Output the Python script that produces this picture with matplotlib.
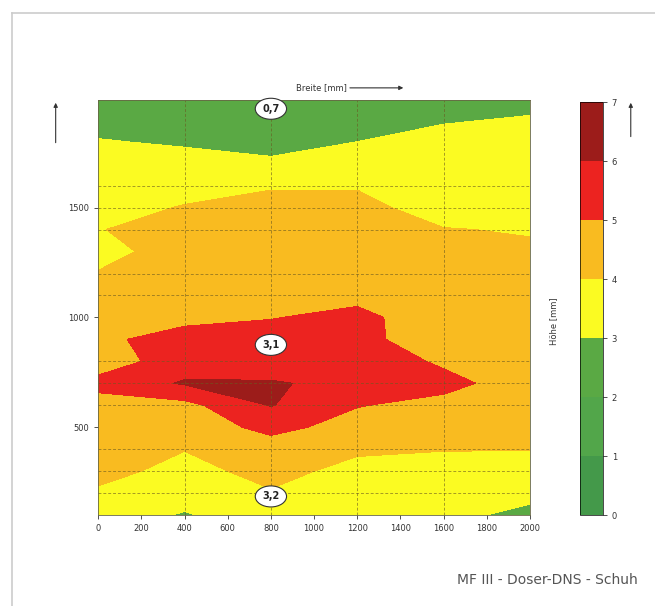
import numpy as np
import matplotlib.pyplot as plt
from matplotlib.colors import ListedColormap, BoundaryNorm
from matplotlib.lines import Line2D

# -------------------------
# MESSRASTER
# -------------------------
breite = [0, 400, 800, 1200, 1600, 2000]
hoehe = [100, 200, 300, 400, 500, 600, 700, 800, 900, 1000,
         1100, 1200, 1300, 1400, 1500, 1600, 1700, 1800, 1900, 2000]

# Werte je Spalte (Breite), von unten nach oben
w_0 = [3.6, 3.9, 4.2, 4.3, 4.4, 4.6, 5.3, 4.5, 4.85, 4.8,
       4.3, 4.05, 3.7, 3.97, 3.7, 3.5, 3.3, 3.05, 2.7, 2.5]
w_400 = [2.9, 3.5, 3.8, 4.02, 4.4, 4.7, 6.1, 5.5, 5.3, 4.8,
         4.7, 4.55, 4.4, 4.3, 4.05, 3.7, 3.3, 2.9, 2.6, 2.4]
w_800 = [3.7, 3.95, 4.2, 4.5, 5.3, 6.05, 6.1, 5.4, 5.3, 4.97,
         4.8, 4.6, 4.4, 4.3, 4.2, 3.95, 3.15, 2.7, 2.4, 2.2]
w_1200 = [3.4, 3.6, 3.8, 4.1, 4.6, 5.05, 5.7, 5.6, 5.3, 5.2,
          4.8, 4.6, 4.45, 4.3, 4.2, 3.95, 3.3, 3.0, 2.6, 2.4]
w_1600 = [3.3, 3.5, 3.7, 4.03, 4.5, 4.7, 5.3, 4.85, 4.4, 4.55,
          4.4, 4.3, 4.2, 4.03, 3.7, 3.55, 3.4, 3.2, 2.95, 2.7]
w_2000 = [2.7, 3.3, 3.7, 4.02, 4.3, 4.45, 4.5, 4.45, 4.4, 4.35,
          4.3, 4.2, 4.1, 3.95, 3.8, 3.6, 3.5, 3.3, 3.05, 2.8]

stufen = [0, 1, 2, 3, 4, 5, 6, 7]
farben = ['#44994a', '#52a64a', '#5aa944', '#fbfb22',
          '#f9bb20', '#ec2320', '#9c1c1a']

Z = np.array([w_0, w_400, w_800, w_1200, w_1600, w_2000]).T
X, Y = np.meshgrid(breite, hoehe)

cmap = ListedColormap(farben)
norm = BoundaryNorm(stufen, cmap.N)

# -------------------------
# GRAFIK
# -------------------------
fig = plt.figure(figsize=(6.55, 6.06), dpi=100)
ax = fig.add_axes([0.150, 0.150, 0.659, 0.685])

cf = ax.contourf(X, Y, Z, levels=stufen, cmap=cmap, norm=norm)

ax.set_xlim(0, 2000)
ax.set_ylim(100, 1990)
ax.set_xticks(range(0, 2001, 200))
ax.set_yticks([500, 1000, 1500])
ax.tick_params(labelsize=6, colors='#333333', length=3, width=0.6)
for s in ax.spines.values():
    s.set_linewidth(0.6)
    s.set_color('#666644')

# Messlinien
for xv in [400, 800, 1200, 1600]:
    ax.axvline(xv, color='#6b5a20', lw=0.7, ls=(0, (3, 2)), alpha=0.6)
for yv in [200, 300, 400, 600, 700, 800, 1100, 1200, 1400, 1500, 1600]:
    ax.axhline(yv, color='#6b5a20', lw=0.7, ls=(0, (3, 2)), alpha=0.6)

# Markierungen
box = dict(boxstyle='ellipse,pad=0.25', fc='white', ec='#333333', lw=0.8)
for xv, yv, txt in [(800, 1950, '0,7'), (800, 875, '3,1'), (800, 185, '3,2')]:
    ax.text(xv, yv, txt, ha='center', va='center', fontsize=7,
            fontweight='bold', color='#222222', bbox=box, zorder=5)

# Farbskala
cax = fig.add_axes([0.885, 0.150, 0.035, 0.681])
cb = fig.colorbar(cf, cax=cax, ticks=stufen)
cb.ax.tick_params(labelsize=6, colors='#333333', length=3, width=0.6)
cb.outline.set_linewidth(0.5)
fig.text(0.845, 0.47, 'Höhe [mm]', rotation=90, ha='center', va='center',
         fontsize=6, color='#333333')

# Achsentitel mit Pfeilen
fig.text(0.49, 0.855, 'Breite [mm]', ha='center', va='center',
         fontsize=6, color='#333333')
ax.annotate('', xy=(0.620, 0.855), xytext=(0.53, 0.855),
            xycoords='figure fraction',
            arrowprops=dict(arrowstyle='-|>', color='#333333', lw=0.8,
                            mutation_scale=6))
ax.annotate('', xy=(0.085, 0.835), xytext=(0.085, 0.76),
            xycoords='figure fraction',
            arrowprops=dict(arrowstyle='-|>', color='#333333', lw=0.8,
                            mutation_scale=6))
ax.annotate('', xy=(0.963, 0.835), xytext=(0.963, 0.77),
            xycoords='figure fraction',
            arrowprops=dict(arrowstyle='-|>', color='#333333', lw=0.8,
                            mutation_scale=6))

fig.text(0.836, 0.043, 'MF III - Doser-DNS - Schuh', ha='center', va='center',
         fontsize=10, color='#555555')

# Seitenrand
fig.add_artist(Line2D([0.018, 1.0], [0.979, 0.979], color='#cccccc', lw=1.2))
fig.add_artist(Line2D([0.018, 0.018], [0.0, 0.979], color='#cccccc', lw=1.2))

plt.savefig('out.png', dpi=100)
